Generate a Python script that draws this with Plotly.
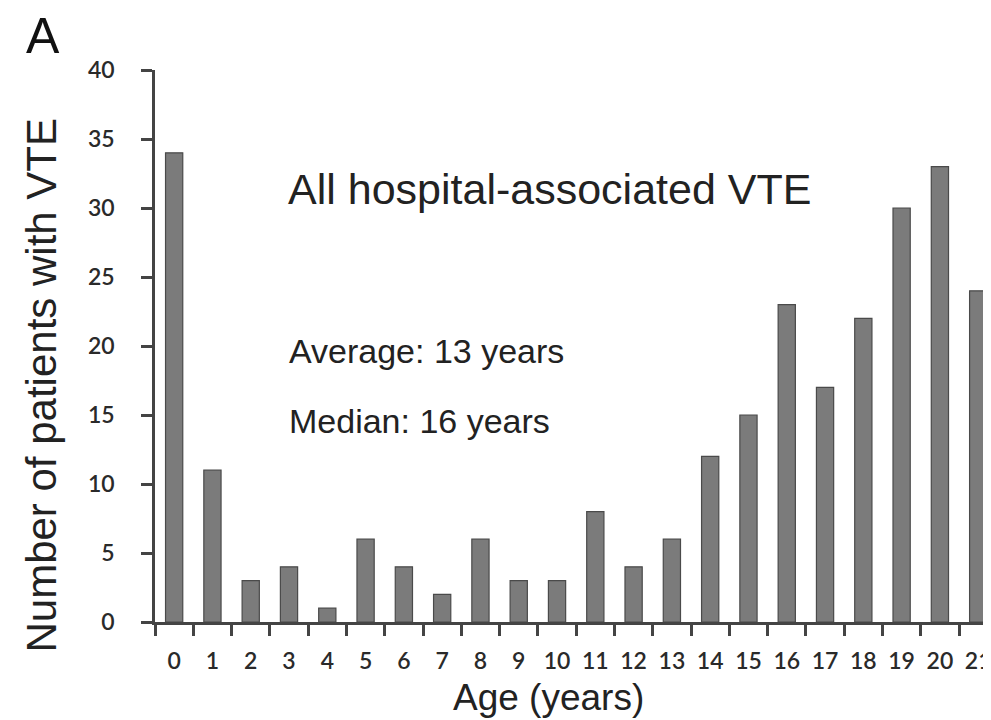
import plotly.graph_objects as go

ages = [str(i) for i in range(22)]
counts = [34, 11, 3, 4, 1, 6, 4, 2, 6, 3, 3, 8, 4, 6, 12, 15, 23, 17, 22, 30, 33, 24]
y_ticks = [0, 5, 10, 15, 20, 25, 30, 35, 40]

# page offset of the plot div (browser body margin)
OFF = 8
W, H = 991 - OFF, 720 - OFF
L, T, B = 155 - OFF, 70 - OFF, 98
PW, PH = W - L, H - T - B


def px(x):
    return (x - OFF - L) / PW


def py(y):
    return (H - B - (y - OFF)) / PH


fig = go.Figure(go.Bar(
    x=ages, y=counts, width=0.45,
    marker=dict(color="#7b7b7b", line=dict(color="#4a4a4a", width=1.2)),
    cliponaxis=False,
))

tickfont = dict(family="Lato", size=23, color="#2a2a2a", weight=600)

fig.update_layout(
    width=W, height=H,
    margin=dict(l=L, r=0, t=T, b=B, pad=0),
    paper_bgcolor="white", plot_bgcolor="white",
    showlegend=False,
    xaxis=dict(
        type="category", range=[-0.5, 21.23], tickson="boundaries",
        ticks="outside", ticklen=11, tickwidth=2.5, tickcolor="#444444",
        showline=True, linecolor="#444444", linewidth=2.5,
        showgrid=False, zeroline=False, tickfont=tickfont,
        tickangle=0, ticklabelstandoff=17,
    ),
    yaxis=dict(
        range=[0, 40], tickvals=y_ticks, ticks="outside", ticklen=11,
        tickwidth=2.5, tickcolor="#444444", showline=True,
        linecolor="#444444", linewidth=2.5, showgrid=False, zeroline=False,
        tickfont=tickfont, ticklabelstandoff=22,
    ),
    annotations=[
        dict(text="A", x=px(42), y=py(36), xref="paper", yref="paper",
             showarrow=False, font=dict(family="Liberation Sans", size=50, color="#111111"),
             xanchor="center", yanchor="middle"),
        dict(text="Number of patients with VTE", x=px(40), y=py(385), xref="paper", yref="paper",
             showarrow=False, textangle=-90,
             font=dict(family="Liberation Sans", size=42, color="#222222"),
             xanchor="center", yanchor="middle"),
        dict(text="Age (years)", x=px(550), y=py(697), xref="paper", yref="paper",
             showarrow=False, font=dict(family="Liberation Sans", size=37, color="#222222"),
             xanchor="center", yanchor="middle"),
        dict(text="All hospital-associated VTE", x=px(287), y=py(189), xref="paper", yref="paper",
             showarrow=False, font=dict(family="Liberation Sans", size=43, color="#222222"),
             xanchor="left", yanchor="middle"),
        dict(text="Average: 13 years", x=px(288), y=py(351), xref="paper", yref="paper",
             showarrow=False, font=dict(family="Liberation Sans", size=34, color="#222222"),
             xanchor="left", yanchor="middle"),
        dict(text="Median: 16 years", x=px(288), y=py(421), xref="paper", yref="paper",
             showarrow=False, font=dict(family="Liberation Sans", size=34, color="#222222"),
             xanchor="left", yanchor="middle"),
    ],
)

fig.write_html("out.html")
